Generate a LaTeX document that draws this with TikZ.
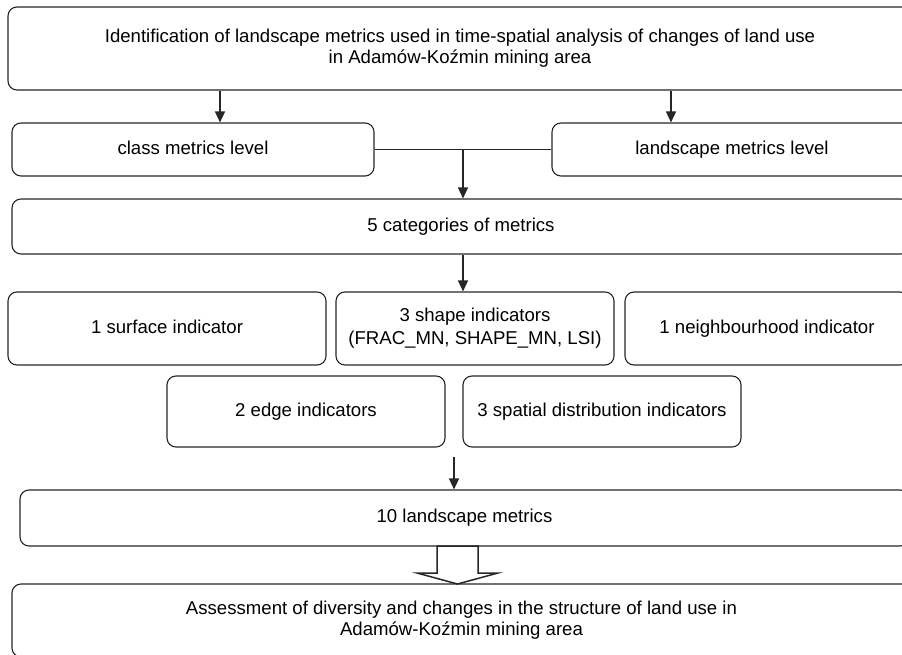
\documentclass[tikz,border=0pt]{standalone}
\usepackage{fontspec}
\setmainfont{Liberation Sans}
\usetikzlibrary{arrows.meta}
\begin{document}
\begin{tikzpicture}[x=1pt,y=-1pt,
  box/.style={draw=black!85, line width=1.1pt, rounded corners=9pt, align=center, inner sep=0pt,
    font=\fontsize{18.6}{21}\selectfont},
  one/.style={text height=13.5pt, text depth=4pt},
  arr/.style={line width=1.3pt, draw=black!85, -{Triangle[length=11pt,width=10pt]}},
  conn/.style={line width=1.3pt, draw=black!85}]
\useasboundingbox (0,0) rectangle (902,655);
\clip (0,0) rectangle (902,655);
\node[box, minimum width=904, minimum height=83] (top) at (460,48.5)
  {Identification of landscape metrics used in time-spatial analysis of changes of land use\\in Adamów-Koźmin mining area};
\node[box, one, minimum width=362, minimum height=53] (cls) at (193,149.5) {class metrics level};
\node[box, one, minimum width=360, minimum height=53] (lnd) at (732,149.5) {landscape metrics level};
\node[box, one, minimum width=898, minimum height=55] (cat) at (461,226.5) {5 categories of metrics};
\node[box, one, minimum width=318, minimum height=73] (surf) at (167,328.5) {1 surface indicator};
\node[box, minimum width=278, minimum height=73, font=\fontsize{18.6}{23}\selectfont] (shp) at (475,328.5) {3 shape indicators\\(FRAC\_MN, SHAPE\_MN, LSI)};
\node[box, one, minimum width=284, minimum height=73] (nbh) at (767,328.5) {1 neighbourhood indicator};
\node[box, one, minimum width=278, minimum height=71] (edg) at (306,411.5) {2 edge indicators};
\node[box, one, minimum width=278, minimum height=71] (spd) at (602,411.5) {3 spatial distribution indicators};
\node[box, one, minimum width=889, minimum height=56] (ten) at (464.5,518) {10 landscape metrics};
\node[box, minimum width=899, minimum height=73] (bot) at (461.5,620.5)
  {Assessment of diversity and changes in the structure of land use in\\Adamów-Koźmin mining area};
% connectors
\coordinate (xa) at (220,0);
\coordinate (xb) at (671,0);
\coordinate (xc) at (463,0);
\coordinate (s1) at (454,457);
\draw[arr] (top.south -| xa) -- (cls.north -| xa);
\draw[arr] (top.south -| xb) -- (lnd.north -| xb);
\draw[conn] (cls.east) -- (lnd.west);
\draw[arr] (cls.east -| xc) -- (cat.north -| xc);
\draw[arr] (cat.south -| xc) -- (shp.north -| xc);
\draw[arr] (s1) -- (ten.north -| s1);
% hollow arrow
\coordinate (h1) at (437,546);
\coordinate (h2) at (478,546);
\coordinate (ht) at (457.5,584);
\draw[line width=1.5pt, draw=black!85, fill=white, line join=miter]
  (h1) -- (437,573) -- (417,573) -- (ht) -- (498,573) -- (478,573) -- (h2) -- cycle;
\end{tikzpicture}
\end{document}
